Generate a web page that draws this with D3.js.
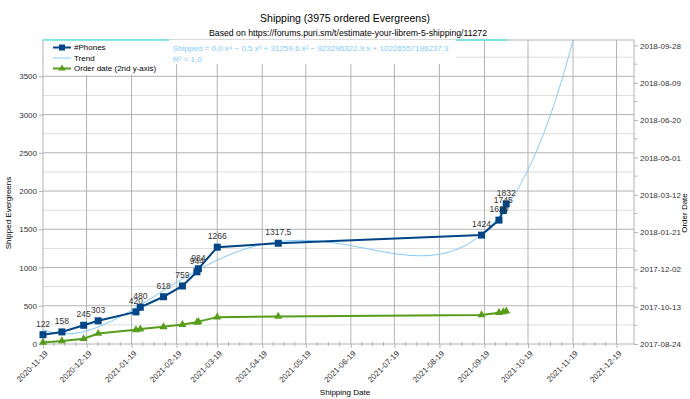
<!DOCTYPE html>
<html>
<head>
<meta charset="utf-8">
<script src="https://cdn.jsdelivr.net/npm/d3@7"></script>
<style>
  body { margin: 0; background: #fff; }
  svg { font-family: "Liberation Sans", Arial, sans-serif; }
</style>
</head>
<body>
<svg id="chart" width="690" height="399"></svg>
<script>
// shipping dates and shipped phones
const shipDates = ["2020-11-19", "2020-12-02", "2020-12-17", "2020-12-27", "2021-01-22", "2021-01-25",
  "2021-02-10", "2021-02-23", "2021-03-05", "2021-03-06", "2021-03-19", "2021-04-30",
  "2021-09-17", "2021-09-29", "2021-10-02", "2021-10-04"];
const phones = [122, 158, 245, 303, 420, 480, 618, 759, 944, 984, 1266, 1317.5, 1424, 1620, 1745, 1832];
// order date reached at that shipping date (2nd y-axis)
const orderDates = ["2017-08-26", "2017-08-28", "2017-08-31", "2017-09-07", "2017-09-12", "2017-09-13",
  "2017-09-16", "2017-09-19", "2017-09-22", "2017-09-23", "2017-09-29", "2017-09-30",
  "2017-10-02", "2017-10-05", "2017-10-06", "2017-10-07"];

const xTickLabels = ["2020-11-19", "2020-12-19", "2021-01-19", "2021-02-19", "2021-03-19", "2021-04-19",
  "2021-05-19", "2021-06-19", "2021-07-19", "2021-08-19", "2021-09-19", "2021-10-19", "2021-11-19", "2021-12-19"];
const yTicks = [0, 500, 1000, 1500, 2000, 2500, 3000, 3500];
const y2TickLabels = ["2017-08-24", "2017-10-13", "2017-12-02", "2018-01-21", "2018-03-12",
  "2018-05-01", "2018-06-20", "2018-08-09", "2018-09-28"];

const title = "Shipping (3975 ordered Evergreens)";
const subtitle = "Based on https://forums.puri.sm/t/estimate-your-librem-5-shipping/11272";
const equation = "Shipped = 0,0 x⁴ − 0,5 x³ + 31259,6 x² − 923296322,9 x + 10226557196237,3";

const parse = d3.utcParse("%Y-%m-%d");
const fmt = d3.utcFormat("%Y-%m-%d");
const svg = d3.select("#chart");

let pLeft = 43, pRight = 634, pTop = 40, pBottom = 344;

let x = d3.scaleUtc().domain([parse("2020-11-19"), parse("2021-12-31")]).range([pLeft, pRight]);
let y = d3.scaleLinear().domain([0, 3975]).range([pBottom, pTop]);
let y2 = d3.scaleUtc().domain([parse("2017-08-24"), parse("2018-09-28")]).range([pBottom, 45.5]);

let data = shipDates.map((d, i) => ({ date: parse(d), v: phones[i], order: parse(orderDates[i]) }));
let xTicks = xTickLabels.map(parse);

// titles
svg.append("text").attr("x", 345).attr("y", 22).attr("text-anchor", "middle")
  .style("font-size", "10.5px").attr("fill", "#000").text(title);
svg.append("text").attr("x", 348).attr("y", 36).attr("text-anchor", "middle")
  .style("font-size", "8.7px").attr("fill", "#000").text(subtitle);

// grid
let grid = svg.append("g");
grid.selectAll(".minor").data(d3.range(250, 3975, 500)).enter().append("line")
  .attr("x1", pLeft).attr("x2", pRight).attr("y1", d => y(d)).attr("y2", d => y(d))
  .attr("stroke", "#dddddd");
grid.selectAll(".major").data(yTicks.slice(1)).enter().append("line")
  .attr("x1", pLeft).attr("x2", pRight).attr("y1", d => y(d)).attr("y2", d => y(d))
  .attr("stroke", "#b3b3b3");
grid.selectAll(".vx").data(xTicks.slice(1)).enter().append("line")
  .attr("x1", d => x(d)).attr("x2", d => x(d)).attr("y1", pTop).attr("y2", pBottom)
  .attr("stroke", "#b3b3b3");
svg.append("rect").attr("x", pLeft).attr("y", pTop).attr("width", pRight - pLeft).attr("height", pBottom - pTop)
  .attr("fill", "none").attr("stroke", "#b3b3b3");

// x axis
let xAxis = svg.append("g").attr("transform", `translate(0,${pBottom})`)
  .call(d3.axisBottom(x).tickValues(xTicks).tickFormat(fmt).tickSize(4).tickSizeOuter(0));
xAxis.select(".domain").remove();
xAxis.selectAll("line").attr("stroke", "#b3b3b3");
xAxis.selectAll("text").attr("x", 0).attr("y", 0).attr("dy", "0.35em")
  .attr("text-anchor", "end").attr("transform", "translate(3,8) rotate(-45)")
  .style("font-size", "8px").attr("fill", "#333");
// minor x ticks, 4 steps per month
let minorX = [];
for (let i = 0; i < xTicks.length - 1; i++) {
  for (let k = 1; k < 4; k++) minorX.push(new Date(+xTicks[i] + (xTicks[i + 1] - xTicks[i]) * k / 4));
}
svg.selectAll(".mx").data(minorX).enter().append("line")
  .attr("x1", d => x(d)).attr("x2", d => x(d)).attr("y1", pBottom - 2).attr("y2", pBottom + 2)
  .attr("stroke", "#b3b3b3");

// left axis
let yAxis = svg.append("g").attr("transform", `translate(${pLeft},0)`)
  .call(d3.axisLeft(y).tickValues(yTicks).tickFormat(d3.format("d")).tickSize(4).tickSizeOuter(0));
yAxis.select(".domain").remove();
yAxis.selectAll("line").attr("stroke", "#b3b3b3");
yAxis.selectAll("text").style("font-size", "8px").attr("fill", "#333").attr("x", -6);

// right axis
let y2Ticks = y2TickLabels.map(parse);
let y2Axis = svg.append("g").attr("transform", `translate(${pRight},0)`)
  .call(d3.axisRight(y2).tickValues(y2Ticks).tickFormat(fmt).tickSize(4).tickSizeOuter(0));
y2Axis.select(".domain").remove();
y2Axis.selectAll("line").attr("stroke", "#b3b3b3");
y2Axis.selectAll("text").style("font-size", "8px").attr("fill", "#333").attr("x", 6);
let minorY2 = y2Ticks.slice(0, -1).map((d, i) => new Date((+d + +y2Ticks[i + 1]) / 2));
svg.selectAll(".my2").data(minorY2).enter().append("line")
  .attr("x1", pRight).attr("x2", pRight + 3).attr("y1", d => y2(d)).attr("y2", d => y2(d))
  .attr("stroke", "#b3b3b3");

// axis titles
svg.append("text").attr("transform", "translate(11,213) rotate(-90)").attr("text-anchor", "middle")
  .style("font-size", "8px").attr("fill", "#000").text("Shipped Evergreens");
svg.append("text").attr("transform", "translate(687,213) rotate(-90)").attr("text-anchor", "middle")
  .style("font-size", "8px").attr("fill", "#000").text("Order Date");
svg.append("text").attr("x", 345).attr("y", 395).attr("text-anchor", "middle")
  .style("font-size", "8px").attr("fill", "#000").text("Shipping Date");

// polynomial trend (degree 4 least squares on the phone series)
let t0 = +x.domain()[0], day = 864e5;
let tt = data.map(d => (d.date - t0) / day / 100);
let n = 5, A = [], b = [];
for (let r = 0; r < n; r++) {
  A.push([]);
  for (let c = 0; c < n; c++) A[r].push(d3.sum(tt, t => Math.pow(t, r + c)));
  b.push(d3.sum(tt, (t, i) => Math.pow(t, r) * data[i].v));
}
for (let i = 0; i < n; i++) {
  let p = i;
  for (let r = i + 1; r < n; r++) if (Math.abs(A[r][i]) > Math.abs(A[p][i])) p = r;
  [A[i], A[p]] = [A[p], A[i]]; [b[i], b[p]] = [b[p], b[i]];
  for (let r = i + 1; r < n; r++) {
    let f = A[r][i] / A[i][i];
    for (let c = i; c < n; c++) A[r][c] -= f * A[i][c];
    b[r] -= f * b[i];
  }
}
let coef = new Array(n).fill(0);
for (let i = n - 1; i >= 0; i--) {
  let s = b[i];
  for (let c = i + 1; c < n; c++) s -= A[i][c] * coef[c];
  coef[i] = s / A[i][i];
}
let trendFn = t => coef.reduce((s, c, k) => s + c * Math.pow(t, k), 0);
let trendPts = d3.range(pLeft, pRight + 1, 1).map(px => {
  let d = x.invert(px);
  return [d, trendFn((d - t0) / day / 100)];
});

svg.append("clipPath").attr("id", "plotclip").append("rect")
  .attr("x", pLeft).attr("y", pTop).attr("width", pRight - pLeft).attr("height", pBottom - pTop);

let plot = svg.append("g").attr("clip-path", "url(#plotclip)");
plot.append("path").datum(trendPts)
  .attr("d", d3.line().x(d => x(d[0])).y(d => y(d[1])))
  .attr("fill", "none").attr("stroke", "#83caff").attr("stroke-width", 1);

// phones series
svg.append("path").datum(data)
  .attr("d", d3.line().x(d => x(d.date)).y(d => y(d.v)))
  .attr("fill", "none").attr("stroke", "#004586").attr("stroke-width", 2);
// order date series
svg.append("path").datum(data)
  .attr("d", d3.line().x(d => x(d.date)).y(d => y2(d.order)))
  .attr("fill", "none").attr("stroke", "#579d1c").attr("stroke-width", 2);

let tri = d3.symbol().type(d3.symbolTriangle).size(28);
svg.selectAll(".tri").data(data).enter().append("path")
  .attr("d", tri).attr("transform", d => `translate(${x(d.date)},${y2(d.order)})`)
  .attr("fill", "#579d1c");
svg.selectAll(".sq").data(data).enter().append("rect")
  .attr("x", d => x(d.date) - 3.5).attr("y", d => y(d.v) - 3.5).attr("width", 7).attr("height", 7)
  .attr("fill", "#004586");
svg.selectAll(".lbl").data(data).enter().append("text")
  .attr("x", d => x(d.date)).attr("y", d => y(d.v) - 8).attr("text-anchor", "middle")
  .style("font-size", "8.5px").attr("fill", "#333")
  .text(d => String(d.v).replace(".", ","));

// legend box
svg.append("rect").attr("x", pLeft + 1).attr("y", pTop).attr("width", 125).attr("height", 35).attr("fill", "#fff");
svg.append("rect").attr("x", 169).attr("y", pTop).attr("width", 287).attr("height", 24).attr("fill", "#fff");
svg.append("line").attr("x1", pLeft).attr("x2", 169).attr("y1", pTop).attr("y2", pTop)
  .attr("stroke", "#5fe3dc").attr("stroke-width", 1.5);
svg.append("line").attr("x1", 456).attr("x2", 507).attr("y1", pTop).attr("y2", pTop)
  .attr("stroke", "#5fe3dc").attr("stroke-width", 1.5);

let legend = [
  { name: "#Phones", color: "#004586", w: 2, mark: "sq" },
  { name: "Trend", color: "#83caff", w: 1, mark: null },
  { name: "Order date (2nd y-axis)", color: "#579d1c", w: 2, mark: "tri" }
];
let lg = svg.selectAll(".lg").data(legend).enter().append("g")
  .attr("transform", (d, i) => `translate(53,${47.5 + i * 10.5})`);
lg.append("line").attr("x1", 0).attr("x2", 18).attr("stroke", d => d.color).attr("stroke-width", d => d.w);
lg.filter(d => d.mark === "sq").append("rect").attr("x", 6).attr("y", -3).attr("width", 6).attr("height", 6)
  .attr("fill", d => d.color);
lg.filter(d => d.mark === "tri").append("path").attr("d", d3.symbol().type(d3.symbolTriangle).size(22))
  .attr("transform", "translate(9,0)").attr("fill", d => d.color);
lg.append("text").attr("x", 21).attr("dy", "0.35em").style("font-size", "8px").attr("fill", "#000")
  .text(d => d.name);

// equation of trend
svg.append("text").attr("x", 173).attr("y", 51).style("font-size", "8px").attr("fill", "#83caff").text(equation);
svg.append("text").attr("x", 173).attr("y", 61.5).style("font-size", "8px").attr("fill", "#83caff").text("R² = 1,0");
</script>
</body>
</html>
